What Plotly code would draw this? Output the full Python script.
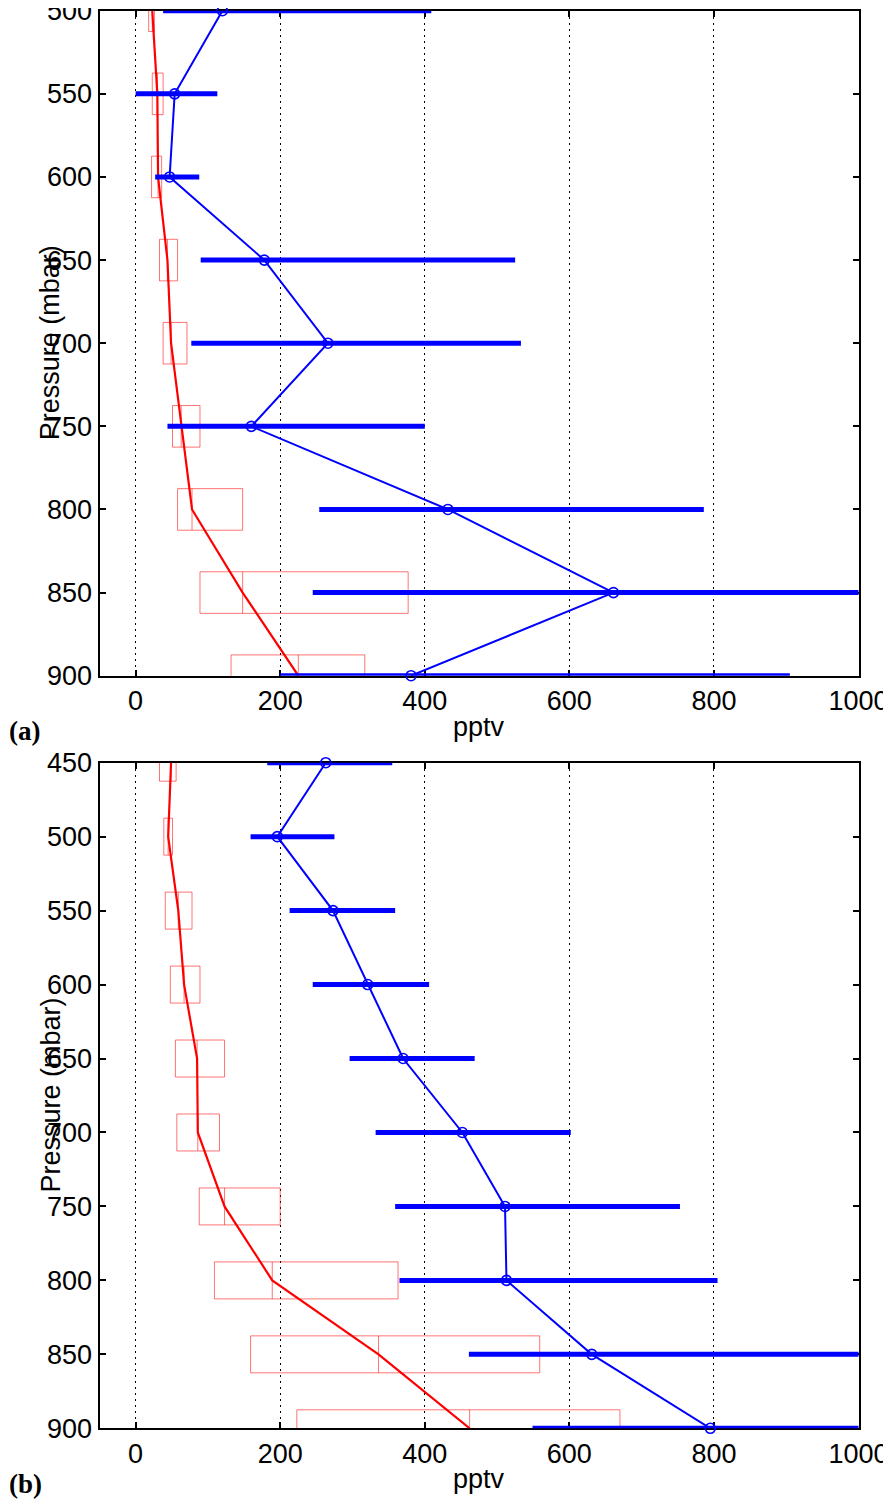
import plotly.graph_objects as go

# ---------------- data ----------------
# panel (a)
pressure_a = [500, 550, 600, 650, 700, 750, 800, 850, 900]
obs_a = [120, 54, 47, 178, 266, 160, 432, 661, 381]
obs_a_low = [38, 0, 27, 90, 77, 44, 254, 245, 200]
obs_a_high = [409, 113, 88, 525, 533, 400, 786, 1100, 905]
model_a_median = [23, 30, 31, 44, 49, 63, 78, 148, 225]
model_a_low = [18, 23, 22, 33, 38, 51, 58, 89, 132]
model_a_high = [26, 38, 36, 58, 71, 89, 148, 377, 317]

# panel (b)
pressure_b = [450, 500, 550, 600, 650, 700, 750, 800, 850, 900]
obs_b = [263, 196, 273, 321, 370, 452, 511, 513, 631, 795]
obs_b_low = [182, 159, 213, 245, 296, 332, 359, 365, 461, 549]
obs_b_high = [355, 275, 359, 406, 469, 602, 753, 805, 1100, 1100]
model_b_median = [49, 45, 59, 67, 85, 86, 123, 189, 336, 462]
model_b_low = [33, 39, 41, 48, 55, 57, 88, 109, 159, 223]
model_b_high = [56, 51, 78, 89, 123, 116, 200, 363, 559, 670]

x_ticks = [0, 200, 400, 600, 800, 1000]
y_ticks_a = [500, 550, 600, 650, 700, 750, 800, 850, 900]
y_ticks_b = [450, 500, 550, 600, 650, 700, 750, 800, 850, 900]

# ---------------- style ----------------
OFF = 8  # page body margin
W, H = 891 - OFF, 1500 - OFF
BLUE = "#0000ff"
RED = "#ff0000"
BOX_COLOR = "rgba(255,0,0,0.55)"
FONT = "Liberation Sans"
FS = 27
HALF = 12.5  # half height of model boxes (mbar)

fig = go.Figure()


def add_panel(p, obs, olo, ohi, med, mlo, mhi, xa, ya):
    bx, by = [], []
    for pi, lo, hi, md in zip(p, mlo, mhi, med):
        bx += [lo, hi, hi, lo, lo, None, md, md, None]
        by += [pi - HALF, pi - HALF, pi + HALF, pi + HALF, pi - HALF, None,
               pi - HALF, pi + HALF, None]
    fig.add_trace(go.Scatter(x=bx, y=by, mode="lines", xaxis=xa, yaxis=ya,
                             line=dict(color=BOX_COLOR, width=1),
                             hoverinfo="skip"))
    fig.add_trace(go.Scatter(x=med, y=p, mode="lines", xaxis=xa, yaxis=ya,
                             line=dict(color=RED, width=2.2)))
    ex, ey = [], []
    for pi, lo, hi in zip(p, olo, ohi):
        ex += [lo, hi, None]
        ey += [pi, pi, None]
    fig.add_trace(go.Scatter(x=ex, y=ey, mode="lines", xaxis=xa, yaxis=ya,
                             line=dict(color=BLUE, width=5),
                             hoverinfo="skip"))
    fig.add_trace(go.Scatter(x=obs, y=p, mode="lines+markers", xaxis=xa,
                             yaxis=ya, cliponaxis=False,
                             line=dict(color=BLUE, width=2),
                             marker=dict(symbol="circle-open", size=10,
                                         color=BLUE,
                                         line=dict(width=1.6, color=BLUE))))


add_panel(pressure_a, obs_a, obs_a_low, obs_a_high, model_a_median,
          model_a_low, model_a_high, "x", "y")
add_panel(pressure_b, obs_b, obs_b_low, obs_b_high, model_b_median,
          model_b_low, model_b_high, "x2", "y2")


def px_x(v):
    return (v - OFF) / W


def px_y(v):
    return 1 - (v - OFF) / H


x0, x1 = px_x(99.5), px_x(858.5)
a_top, a_bot = 10.7, 675.7
b_top, b_bot = 762.7, 1428.3

common_x = dict(range=[-50, 1000], tickvals=x_ticks, ticks="inside",
                ticklen=6, tickwidth=2, tickcolor="black",
                showline=True, linewidth=2, linecolor="black", mirror="ticks",
                showgrid=True, gridcolor="black", gridwidth=1,
                griddash="2px,4px", zeroline=False, layer="below traces",
                tickfont=dict(family=FONT, size=FS, color="black"),
                ticklabeloverflow="allow",
                domain=[x0, x1], automargin=False, fixedrange=True)
common_y = dict(ticks="inside", ticklen=6, tickwidth=2, tickcolor="black",
                showline=True, linewidth=2, linecolor="black", mirror="ticks",
                showgrid=False, zeroline=False, layer="below traces",
                tickfont=dict(family=FONT, size=FS, color="black"),
                ticklabeloverflow="allow",
                automargin=False, fixedrange=True)

fig.update_layout(
    width=W, height=H,
    margin=dict(l=0, r=0, t=0, b=0),
    paper_bgcolor="white", plot_bgcolor="white",
    showlegend=False,
    xaxis=dict(anchor="y", **common_x),
    yaxis=dict(anchor="x", range=[900, 500], tickvals=y_ticks_a,
               domain=[px_y(a_bot), px_y(a_top)], **common_y),
    xaxis2=dict(anchor="y2", **common_x),
    yaxis2=dict(anchor="x2", range=[900, 450], tickvals=y_ticks_b,
                domain=[px_y(b_bot), px_y(b_top)], **common_y),
)

ann_font = dict(family=FONT, size=FS, color="black")
xc = (x0 + x1) / 2
for top, bot, lab_y, tag_y, tag in [(a_top, a_bot, 727, 731, "(a)"),
                                    (b_top, b_bot, 1479, 1484, "(b)")]:
    fig.add_annotation(text="Pressure (mbar)", textangle=-90, xref="paper",
                       yref="paper", x=px_x(50), y=px_y((top + bot) / 2),
                       xanchor="center", yanchor="middle", showarrow=False,
                       font=ann_font)
    fig.add_annotation(text="pptv", xref="paper", yref="paper", x=xc,
                       y=px_y(lab_y), xanchor="center", yanchor="middle",
                       showarrow=False, font=ann_font)
    fig.add_annotation(text="<b>" + tag + "</b>", xref="paper", yref="paper",
                       x=0, y=px_y(tag_y), xanchor="left", borderpad=0,
                       yanchor="middle", showarrow=False,
                       font=dict(family="Liberation Serif", size=27,
                                 color="black"))

fig.write_html("out.html")
